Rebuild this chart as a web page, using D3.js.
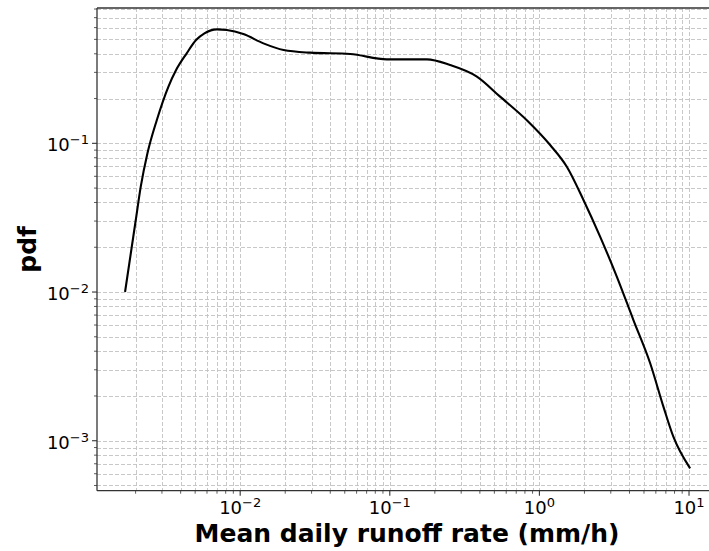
<!DOCTYPE html>
<html><head><meta charset="utf-8">
<script src="https://cdn.jsdelivr.net/npm/d3@7"></script>
<style>html,body{margin:0;padding:0;background:#fff;overflow:hidden}svg{display:block}</style>
</head><body><svg id="c" width="709" height="551"></svg>
<script>
// ---- data ----
const rate = [0.0017, 0.002005, 0.002165, 0.0024, 0.00277, 0.00331, 0.00373, 0.00439, 0.00507, 0.00577, 0.00698, 0.00814, 0.0105, 0.0143, 0.0195, 0.0293, 0.0543, 0.0955, 0.177, 0.253, 0.382, 0.546, 0.824, 1.18, 1.525, 1.97, 2.545, 3.29, 4.25, 5.50, 6.75, 7.87, 10.17];
const pdf  = [0.0100, 0.0305, 0.0511, 0.0857, 0.143, 0.240, 0.311, 0.403, 0.495, 0.549, 0.584, 0.578, 0.543, 0.470, 0.424, 0.407, 0.399, 0.367, 0.367, 0.336, 0.281, 0.206, 0.143, 0.0974, 0.0696, 0.0416, 0.0236, 0.0127, 0.00648, 0.00332, 0.00169, 0.00106, 0.000652];
const xMajorTicks = [1e-2, 1e-1, 1e0, 1e1];
const yMajorTicks = [1e-3, 1e-2, 1e-1];
const xLabel = "Mean daily runoff rate (mm/h)";
const yLabel = "pdf";

// ---- layout ----
const W = 709;
const L = 97, R = 717, T = 8, B = 490.7;
const svg = d3.select("#c");
const x = d3.scaleLog().domain([Math.pow(10, -2.957), Math.pow(10, 1.187)]).range([L, R]);
const y = d3.scaleLog().domain([Math.pow(10, -3.336), Math.pow(10, -0.09)]).range([B, T]);

const font = "'DejaVu Sans', sans-serif";
const gridC = "#c2c2c2";

// grid (major + minor)
const g = svg.append("g");
const xt = x.ticks().filter(d => x(d) < W), yt = y.ticks();
g.selectAll(".gx").data(xt).join("line")
  .attr("x1", d => Math.round(x(d)) + 0.5).attr("x2", d => Math.round(x(d)) + 0.5)
  .attr("y1", T).attr("y2", B)
  .attr("stroke", gridC).attr("stroke-width", 0.9).attr("stroke-dasharray", "4,2");
g.selectAll(".gy").data(yt).join("line")
  .attr("y1", d => Math.round(y(d)) + 0.5).attr("y2", d => Math.round(y(d)) + 0.5)
  .attr("x1", L).attr("x2", W)
  .attr("stroke", gridC).attr("stroke-width", 0.9).attr("stroke-dasharray", "4,2");

// curve
const pts = rate.map((r, i) => [r, pdf[i]]);
g.append("path").datum(pts)
  .attr("d", d3.line().x(d => x(d[0])).y(d => y(d[1])).curve(d3.curveMonotoneX))
  .attr("fill", "none").attr("stroke", "#000").attr("stroke-width", 2.1)
  .attr("stroke-linejoin", "round");

// spines (right spine lies outside the picture)
const sp = svg.append("g").attr("stroke", "#333").attr("stroke-width", 1.3);
sp.append("line").attr("x1", L).attr("x2", W).attr("y1", T).attr("y2", T);
sp.append("line").attr("x1", L).attr("x2", W).attr("y1", B).attr("y2", B);
sp.append("line").attr("x1", L).attr("x2", L).attr("y1", T).attr("y2", B);

// ticks
const isMajor = v => Math.abs(Math.log10(v) - Math.round(Math.log10(v))) < 1e-9;
svg.selectAll(".tx").data(xt).join("line")
  .attr("x1", d => x(d)).attr("x2", d => x(d))
  .attr("y1", B).attr("y2", d => B + (isMajor(d) ? 5 : 3))
  .attr("stroke", "#333").attr("stroke-width", d => isMajor(d) ? 1.1 : 0.8);
svg.selectAll(".ty").data(yt).join("line")
  .attr("y1", d => y(d)).attr("y2", d => y(d))
  .attr("x1", L).attr("x2", d => L - (isMajor(d) ? 5 : 3))
  .attr("stroke", "#333").attr("stroke-width", d => isMajor(d) ? 1.1 : 0.8);

function powLabel(sel, v) {
  const e = Math.round(Math.log10(v));
  sel.append("tspan").text("10");
  sel.append("tspan").attr("dy", -7).attr("font-size", 13).text((e < 0 ? "\u2212" : "") + Math.abs(e));
}
svg.selectAll(".lx").data(xMajorTicks).join("text")
  .attr("x", d => x(d)).attr("y", 514)
  .attr("text-anchor", "middle").attr("font-family", font).attr("font-size", 18).attr("fill", "#000")
  .each(function (d) { powLabel(d3.select(this), d); });
svg.selectAll(".ly").data(yMajorTicks).join("text")
  .attr("x", 89).attr("y", d => y(d) + 8)
  .attr("text-anchor", "end").attr("font-family", font).attr("font-size", 18).attr("fill", "#000")
  .each(function (d) { powLabel(d3.select(this), d); });

// axis labels
svg.append("text").attr("x", (L + R) / 2).attr("y", 541.7)
  .attr("text-anchor", "middle").attr("font-family", font).attr("font-weight", "bold")
  .attr("font-size", 25).attr("fill", "#000").text(xLabel);
svg.append("text").attr("transform", `translate(36,${(T + B) / 2}) rotate(-90)`)
  .attr("text-anchor", "middle").attr("font-family", font).attr("font-weight", "bold")
  .attr("font-size", 25).attr("fill", "#000").text(yLabel);
</script>
</body></html>
